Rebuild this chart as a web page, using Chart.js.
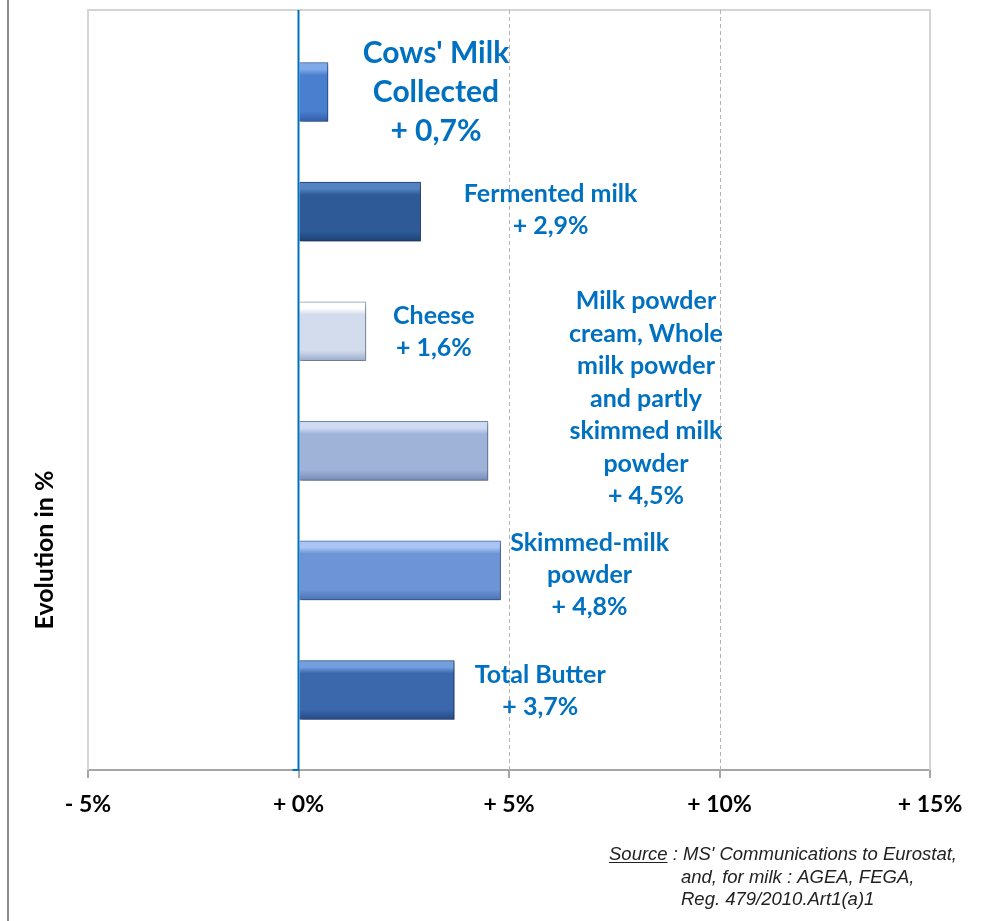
<!DOCTYPE html>
<html>
<head>
<meta charset="utf-8">
<script src="https://cdn.jsdelivr.net/npm/chart.js@4/dist/chart.umd.min.js"></script>
<style>
body{margin:0;background:#fff;}
canvas{display:block;}
</style>
</head>
<body>
<canvas id="milkChart" width="987" height="921"></canvas>
<script>
// Evolution of dairy deliveries / production (%)

const categories = [
"Cows' Milk Collected",
"Fermented milk",
"Cheese",
"Milk powder cream, Whole milk powder and partly skimmed milk powder",
"Skimmed-milk powder",
"Total Butter"
];

const changes = [0.7, 2.9, 1.6, 4.5, 4.8, 3.7];

const tickLabels = ["- 5%", "+ 0%", "+ 5%", "+ 10%", "+ 15%"];

// how each category name is broken over lines in the labels
const nameLines = [
["Cows' Milk", "Collected"],
["Fermented milk"],
["Cheese"],
["Milk powder", "cream, Whole", "milk powder", "and partly", "skimmed milk", "powder"],
["Skimmed-milk", "powder"],
["Total Butter"]
];

// label placement: offset of label centre from the bar end / bar centre, font size, line height
const labelStyle = [
{dx:108, dy:0, size:30, lh:39},
{dx:130, dy:-2, size:25, lh:32},
{dx:68, dy:1, size:25, lh:32},
{dx:158, dy:-52, size:25, lh:32.5},
{dx:89, dy:5, size:25, lh:32},
{dx:86, dy:1, size:25, lh:32}
];

// gradient stops per bar (top, middle, bottom)
const barShades = [
["#80aae8", "#4a7fcf", "#2d5ca6"],
["#5482c2", "#2e5b98", "#1c4275"],
["#ffffff", "#d3dcec", "#98a9c8"],
["#cddaf2", "#9fb3d9", "#7489b5"],
["#a8c5f4", "#6d94d6", "#4870b2"],
["#749fde", "#3b68ad", "#224884"]
];

const blue = "#0070C0";

function fmt(v){
return "+ " + v.toFixed(1).replace(".", ",") + "%";
}

const deco = {
id:"deco",
beforeDatasetsDraw(chart){
const {ctx, chartArea:a, scales:{x}} = chart;
ctx.save();
// plot frame
ctx.strokeStyle = "#d4d4d4";
ctx.lineWidth = 2;
ctx.beginPath();
ctx.moveTo(a.left, a.bottom);
ctx.lineTo(a.left, a.top);
ctx.lineTo(a.right, a.top);
ctx.lineTo(a.right, a.bottom);
ctx.stroke();
// dashed gridlines
ctx.strokeStyle = "#b4b4b4";
ctx.lineWidth = 1;
ctx.setLineDash([4, 3]);
[5, 10].forEach(v => {
const px = Math.round(x.getPixelForValue(v)) + 0.5;
ctx.beginPath();
ctx.moveTo(px, a.top);
ctx.lineTo(px, a.bottom);
ctx.stroke();
});
ctx.restore();
// bar shadow
ctx.save();
ctx.shadowColor = "rgba(0,0,0,0.35)";
ctx.shadowBlur = 4;
ctx.shadowOffsetX = 2;
ctx.shadowOffsetY = 2;
},
afterDatasetsDraw(chart){
const {ctx, chartArea:a, scales:{x, y}} = chart;
ctx.restore();
ctx.save();
// zero line
const zx = x.getPixelForValue(0);
ctx.strokeStyle = blue;
ctx.lineWidth = 2;
ctx.beginPath();
ctx.moveTo(zx, a.top);
ctx.lineTo(zx, a.bottom);
ctx.lineTo(zx - 6, a.bottom);
ctx.stroke();
// value labels
ctx.fillStyle = blue;
ctx.textAlign = "center";
ctx.textBaseline = "middle";
changes.forEach((v, i) => {
const s = labelStyle[i];
const lines = nameLines[i].concat([fmt(v)]);
const cx = x.getPixelForValue(v) + s.dx;
const cy = y.getPixelForValue(i) + s.dy;
ctx.font = "bold " + s.size + "px Lato";
const top = cy - (lines.length - 1) * s.lh / 2;
lines.forEach((t, k) => ctx.fillText(t, cx, top + k * s.lh));
});
ctx.restore();
},
afterDraw(chart){
const {ctx} = chart;
ctx.save();
// page edge line
ctx.fillStyle = "#8c8c8c";
ctx.fillRect(7, 0, 2, 921);
// axis title
ctx.translate(45, 550);
ctx.rotate(-Math.PI / 2);
ctx.fillStyle = "#000";
ctx.font = "bold 25px Lato";
ctx.textAlign = "center";
ctx.textBaseline = "middle";
ctx.fillText("Evolution in %", 0, 0);
ctx.restore();
// source note
ctx.save();
ctx.fillStyle = "#222";
ctx.font = "italic 18.5px 'Liberation Sans'";
ctx.textBaseline = "alphabetic";
ctx.fillText("Source", 609, 860);
const sw = ctx.measureText("Source").width;
ctx.fillRect(609, 862, sw, 1);
ctx.fillText(" : MS' Communications to Eurostat,", 609 + sw, 860);
ctx.fillText("and, for milk : AGEA, FEGA,", 681, 882.5);
ctx.fillText("Reg. 479/2010.Art1(a)1", 681, 905);
ctx.restore();
}
};

new Chart(
document.getElementById("milkChart"),
{
type:"bar",

data:{
labels:categories,
datasets:[{
label:"Evolution in %",
data:changes.map((v, i) => ({x:v, y:i})),
barThickness:59,
borderWidth:1,
borderColor:(c) => (barShades[c.dataIndex] || barShades[0])[2],
backgroundColor:(c) => {
const sh = barShades[c.dataIndex] || barShades[0];
const ys = c.chart.scales.y;
if(!ys) return sh[1];
const cy = ys.getPixelForValue(c.dataIndex);
if(!isFinite(cy)) return sh[1];
const g = c.chart.ctx.createLinearGradient(0, cy - 30, 0, cy + 30);
g.addColorStop(0, sh[0]);
g.addColorStop(0.12, sh[0]);
g.addColorStop(0.22, sh[1]);
g.addColorStop(0.82, sh[1]);
g.addColorStop(1, sh[2]);
return g;
}
}]
},

options:{
responsive:false,
animation:false,
indexAxis:"y",
layout:{padding:{left:88, right:57, top:10, bottom:0}},
plugins:{
legend:{display:false},
tooltip:{enabled:false}
},
scales:{
x:{
type:"linear",
min:-5,
max:15,
ticks:{
stepSize:5,
padding:13,
color:"#000",
font:{family:"Lato", weight:"bold", size:23},
callback:(v, i) => tickLabels[i]
},
grid:{drawOnChartArea:false, drawTicks:true, tickLength:8, color:"#a6a6a6", lineWidth:2},
border:{display:true, color:"#a6a6a6", width:2},
afterFit:(s) => { s.height = 151; }
},
y:{
type:"linear",
reverse:true,
offset:false,
min:-0.686,
max:5.669,
display:false
}
}
},

plugins:[deco]
}
);
</script>
</body>
</html>
